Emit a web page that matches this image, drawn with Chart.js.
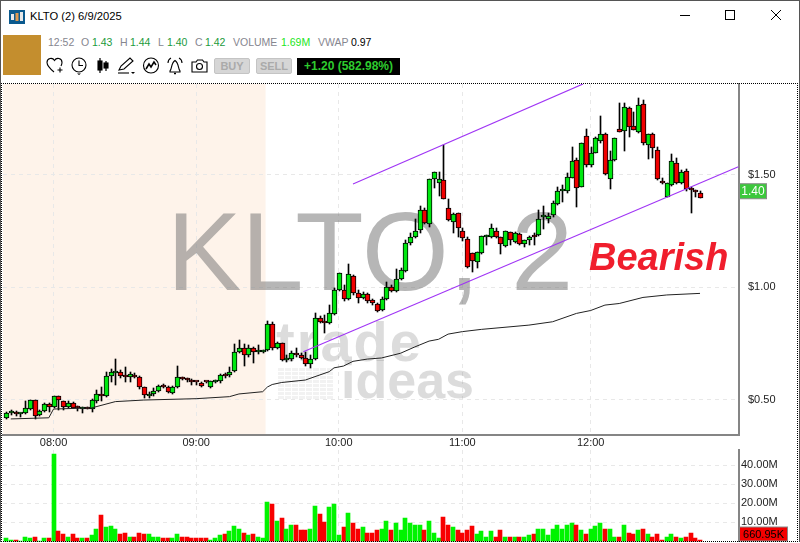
<!DOCTYPE html>
<html>
<head>
<meta charset="utf-8">
<title>KLTO (2) 6/9/2025</title>
<script src="https://cdn.jsdelivr.net/npm/chart.js@4/dist/chart.umd.js"></script>
<style>
html,body{margin:0;padding:0;background:#fff;}
body{width:800px;height:543px;overflow:hidden;position:relative;font-family:"Liberation Sans",Arial,sans-serif;}
.abs{position:absolute;white-space:nowrap;}
canvas{position:absolute;left:0;}
#priceChart{top:83px;}
#volumeChart{top:445px;}
#frame{left:1px;top:83px;width:795px;height:457px;border:1px dotted #000;pointer-events:none;}
#edge{left:0;top:0;width:798px;height:541px;border:1px solid #555;border-width:1px 1px 0 1px;pointer-events:none;}
.info{font-size:10.5px;top:36px;line-height:12px;}
.lab{color:#86868f;}
.val{color:#1c9a3c;}
.btn{top:58px;height:14px;width:34px;background:#d6d6d6;border:1px solid #c4c4c4;border-radius:2px;color:#aaa;font-size:11px;font-weight:bold;text-align:center;line-height:14px;}
svg{position:absolute;overflow:visible;}
</style>
</head>
<body>
<div class="abs" id="edge"></div>

<svg style="left:9px;top:10px" width="16" height="14">
  <rect width="16" height="14" fill="#0b5a8e"/>
  <rect x="2" y="4" width="3" height="6" fill="#e8e8e8"/><rect x="6.5" y="3" width="3" height="8" fill="#e09a50"/><rect x="11" y="2" width="3" height="9" fill="#e8e8e8"/>
</svg>
<div class="abs" style="left:30px;top:9px;font-size:11.2px;line-height:14px;color:#000">KLTO (2) 6/9/2025</div>

<svg style="left:680px;top:10px" width="102" height="10" fill="none" stroke="#000">
  <path d="M0 5.5H10"/><rect x="45.5" y="0.5" width="9" height="9"/><path d="M91 0L101 10M101 0L91 10"/>
</svg>

<div class="abs" style="left:3px;top:35px;width:38px;height:40px;background:#c48e2e"></div>

<span class="abs info lab" style="left:48px">12:52</span>
<span class="abs info lab" style="left:81px">O</span><span class="abs info val" style="left:92px">1.43</span>
<span class="abs info lab" style="left:120px">H</span><span class="abs info val" style="left:130px">1.44</span>
<span class="abs info lab" style="left:158px">L</span><span class="abs info val" style="left:167px">1.40</span>
<span class="abs info lab" style="left:195px">C</span><span class="abs info val" style="left:205px">1.42</span>
<span class="abs info lab" style="left:233px">VOLUME</span><span class="abs info" style="left:281px;color:#22e622">1.69M</span>
<span class="abs info lab" style="left:318px">VWAP</span><span class="abs info" style="left:351px;color:#000">0.97</span>

<svg style="left:46px;top:57px" width="165" height="18" fill="none" stroke="#000" stroke-width="1.1">
  <!-- heart -->
  <path d="M8 15C2 10 1 8 1 5.5C1 1 6.5 0 8.5 3.5C10.5 0 16 1 16 5.5C16 7 15.500 8 15 9"/><path d="M14 10.500V15.500M11.500 13H16.500"/>
  <!-- clock -->
  <circle cx="33" cy="8" r="7"/><path d="M33 3.500V8.500H37"/><path d="M31 16.500H35L33 18Z" fill="#000" stroke="none"/>
  <!-- candles -->
  <path d="M54 1V16M60 4V14" stroke-width="1.2"/><rect x="52" y="4" width="4" height="9" fill="#000"/><rect x="58" y="6" width="4" height="5" fill="#000"/>
  <!-- pen -->
  <path d="M73 13L75 9L84 1L87 4L78 12L73 13Z"/><path d="M72 16H83"/><path d="M85 15H89L87 17Z" fill="#000" stroke="none"/>
  <!-- chart -->
  <circle cx="105" cy="8.500" r="7.500"/><path d="M100 12L103 7L105 10L108 5L110 8" stroke-width="1.500"/>
  <!-- bell -->
  <path d="M124 15H134V14C132 12 133 6 129 3.500C125 6 126 12 124 14Z"/><path d="M128 16.500H130" stroke-width="1.500"/><path d="M122 6C122 4 123 2 125 1M136 6C136 4 135 2 133 1"/>
  <!-- camera -->
  <path d="M146 5H150L151.500 3H156.500L158 5H161V15H146Z"/><circle cx="153.500" cy="9.500" r="3"/>
</svg>

<div class="abs btn" style="left:214px">BUY</div>
<div class="abs btn" style="left:256px">SELL</div>
<div class="abs" style="left:297px;top:58px;width:103px;height:17px;background:#000;color:#2ecc2e;font-size:12px;font-weight:bold;text-align:center;line-height:17px">+1.20 (582.98%)</div>

<canvas id="priceChart" width="800" height="370"></canvas>
<canvas id="volumeChart" width="800" height="98"></canvas>
<div class="abs" id="frame"></div>

<script>
// bars are 2 minute candles, numbered from the left edge of the chart
const tickBars = [10, 40, 70, 96, 123];
const tickLabels = ['08:00', '09:00', '10:00', '11:00', '12:00'];
const priceTicks = [0.5, 1.0, 1.5];
const volumeTicks = [10, 20, 30, 40];
const preMarketEnd = 54.6;

const opens = [
  .418,.442,.444,.438,.440,.458,.498,.431,.449,.480,.467,.515,.493,.467,.484,.465,.459,.461,.458,.493,
  .524,.515,.604,.621,.622,.605,.600,.609,.600,.555,.519,.524,.538,.561,.555,.529,.555,.600,.592,.587,
  .579,.573,.579,.555,.581,.582,.610,.609,.626,.711,.729,.698,.729,.711,.713,.722,.836,.730,.751,.679,
  .680,.710,.698,.685,.658,.680,.865,.844,.840,.880,.987,.987,.947,1.049,.973,.951,.969,.942,.924,.898,
  .947,1.000,.982,1.035,1.071,1.199,1.222,1.254,1.344,1.280,1.480,1.462,1.476,1.351,1.289,1.329,1.249,1.214,1.151,1.111,
  1.151,1.222,1.222,1.249,1.222,1.182,1.245,1.200,1.236,1.191,1.209,1.228,1.231,1.311,1.302,1.320,1.369,1.426,1.430,1.485,
  1.566,1.448,1.671,1.544,1.599,1.649,1.680,1.480,1.565,1.702,1.693,1.796,1.716,1.689,1.813,1.631,1.680,1.609,1.471,1.402,
  1.454,1.551,1.463,1.516,1.440,1.427,1.421
];
const highs = [
  .444,.455,.450,.440,.495,.498,.498,.455,.484,.487,.515,.515,.496,.496,.492,.473,.470,.470,.502,.544,
  .555,.625,.635,.681,.632,.647,.625,.618,.606,.555,.536,.551,.566,.569,.561,.561,.650,.603,.595,.592,
  .581,.581,.581,.585,.588,.613,.618,.647,.748,.766,.748,.743,.736,.743,.721,.850,.847,.757,.754,.699,
  .719,.729,.707,.714,.699,.884,.873,.877,.921,.995,1.062,1.010,1.103,1.055,.988,.981,.973,.947,.929,.958,
  1.025,1.010,1.080,1.084,1.211,1.240,1.304,1.362,1.351,1.480,1.511,1.511,1.632,1.391,1.329,1.329,1.262,1.222,1.151,1.159,
  1.227,1.233,1.280,1.262,1.222,1.249,1.248,1.245,1.240,1.209,1.228,1.240,1.344,1.362,1.329,1.385,1.444,1.455,1.507,1.622,
  1.574,1.640,1.702,1.622,1.667,1.762,1.688,1.608,1.662,1.818,1.818,1.800,1.781,1.840,1.833,1.680,1.685,1.622,1.485,1.463,
  1.591,1.574,1.522,1.525,1.448,1.433,1.426
];
const lows = [
  .413,.433,.428,.422,.436,.455,.413,.428,.446,.447,.462,.455,.455,.462,.462,.450,.440,.458,.447,.487,
  .496,.511,.581,.566,.595,.581,.581,.595,.547,.507,.507,.517,.535,.551,.529,.526,.551,.588,.581,.566,
  .566,.555,.573,.551,.573,.576,.595,.603,.625,.706,.652,.692,.665,.703,.706,.719,.722,.725,.671,.670,
  .674,.692,.680,.651,.643,.677,.840,.799,.837,.877,.984,.939,.944,.966,.929,.947,.929,.921,.892,.893,
  .944,.979,.979,1.032,1.068,1.188,1.218,1.240,1.282,1.270,1.440,1.407,1.391,1.296,1.240,1.225,1.208,1.088,1.070,1.085,
  1.148,1.188,1.218,1.218,1.148,1.178,1.188,1.196,1.188,1.181,1.188,1.188,1.228,1.261,1.285,1.311,1.365,1.381,1.418,1.485,
  1.359,1.448,1.534,1.534,1.596,1.640,1.500,1.439,1.563,1.689,1.608,1.670,1.698,1.685,1.633,1.569,1.574,1.477,1.460,1.400,
  1.451,1.458,1.458,1.426,1.329,1.400,1.395
];
const closes = [
  .440,.444,.437,.440,.462,.498,.428,.449,.480,.467,.515,.498,.467,.484,.462,.463,.461,.459,.498,.524,
  .515,.604,.622,.623,.604,.603,.613,.600,.555,.520,.521,.538,.560,.559,.533,.555,.600,.591,.590,.578,
  .577,.560,.577,.582,.583,.609,.608,.622,.711,.729,.698,.729,.712,.713,.715,.836,.730,.751,.677,.681,
  .710,.698,.686,.659,.680,.865,.846,.842,.884,.987,1.062,.947,1.058,.973,.951,.969,.938,.929,.896,.947,
  1.000,.982,1.035,1.077,1.199,1.222,1.249,1.344,1.285,1.480,1.511,1.480,1.391,1.299,1.325,1.262,1.218,1.089,1.116,1.156,
  1.227,1.224,1.262,1.222,1.191,1.249,1.209,1.240,1.191,1.209,1.222,1.224,1.302,1.313,1.316,1.373,1.427,1.430,1.489,1.562,
  1.440,1.640,1.544,1.596,1.662,1.680,1.503,1.565,1.662,1.689,1.800,1.711,1.698,1.809,1.640,1.680,1.618,1.480,1.463,1.463,
  1.560,1.463,1.511,1.439,1.432,1.425,1.396
];
// volume in millions
const volumes = [
  1.6,1.0,1.0,.5,2.6,1.6,2.1,.5,1.6,1.6,45.8,5.3,3.7,2.6,3.7,1.6,1.6,1.6,3.2,6.3,
  13.7,7.4,7.9,6.8,3.7,4.7,2.1,2.1,4.7,3.7,3.7,2.1,2.1,1.6,1.6,1.6,3.7,2.6,2.1,1.6,
  1.6,1.6,1.6,1.0,1.6,3.2,3.7,5.3,7.9,6.8,4.7,3.2,3.7,2.1,1.6,20.5,19.5,11.0,12.1,6.3,
  8.4,8.9,5.8,5.8,6.3,18.4,14.2,10.0,17.9,19.5,3.2,7.4,14.7,9.5,6.8,7.4,4.7,4.7,5.8,6.3,
  10.5,5.8,9.5,5.8,12.1,9.5,8.9,8.9,5.8,11.0,4.2,1.6,12.6,8.9,7.4,5.8,4.2,5.8,7.9,3.7,
  5.3,2.6,5.3,2.6,5.8,2.6,2.1,2.6,2.6,2.6,3.2,3.7,6.8,6.3,3.2,6.3,8.4,6.8,8.9,9.5,
  8.9,5.8,3.7,6.8,7.9,9.5,6.3,6.3,2.1,2.6,8.9,4.7,3.7,5.8,6.8,3.7,2.1,3.7,1.0,2.1,
  3.7,2.1,1.6,2.1,4.2,1.6,.66095
];
// vwap read at the bars where the line bends
const vwapBars = [1,9,10,18,23,29,40,47,49,54,55,56,58,63,65,68,69,71,73,76,79,83,86,89,91,93,96,100,110,115,120,123,126,129,134,139,146];
const vwapValues = [.415,.420,.459,.464,.492,.499,.505,.514,.526,.536,.557,.568,.577,.588,.603,.625,.642,.650,.671,.681,.686,.707,.735,.761,.769,.792,.803,.813,.832,.847,.884,.897,.921,.928,.955,.966,.973];
// drawn channel, bar and price of each end
const channelUpperBars = [73, 121.4];
const channelUpperPrices = [1.459, 1.904];
const channelLowerBars = [62.55, 154.07];
const channelLowerPrices = [.714, 1.536];

const quoteLevel = 1.427;
const quoteLabel = '1.40';
const volumeLabel = '660.95K';

const UP_BODY = '#00e810', DOWN_BODY = '#f00000';
const UP_VOL = '#00f400', DOWN_VOL = '#f80000';
const GRID = '#e8e8e8', AXIS = '#858585';
const FONT = '"Liberation Sans", Arial, sans-serif';

const isUp = (i) => closes[i] >= opens[i];
const toPoints = (xs, ys) => xs.map((x, i) => ({x: x, y: ys[i]}));

// snap the bars to whole pixels, the original chart has no blurred wicks
const snapBars = {
  id: 'snapBars',
  afterDatasetsUpdate(chart) {
    chart.getSortedVisibleDatasetMetas().forEach((meta) => {
      if (meta.type !== 'bar') return;
      const odd = chart.data.datasets[meta.index].barThickness % 2 === 1;
      meta.data.forEach((bar) => {
        bar.x = Math.round(bar.x) + (odd ? 0.5 : 0);
        bar.y = Math.round(bar.y);
        bar.base = Math.round(bar.base);
        bar.height = bar.base - bar.y;
      });
    });
  }
};

const priceDecor = {
  id: 'priceDecor',
  beforeDraw(chart) {
    const {ctx, chartArea: area, scales} = chart;
    ctx.save();
    ctx.fillStyle = '#fef3ea';
    ctx.fillRect(area.left, area.top, scales.x.getPixelForValue(preMarketEnd) - area.left, area.height);
    ctx.restore();
  },
  beforeDatasetsDraw(chart) {
    const {ctx, chartArea: area} = chart;
    const mid = (area.left + area.right) / 2;
    ctx.save();
    ctx.textAlign = 'center';
    ctx.textBaseline = 'alphabetic';
    ctx.fillStyle = 'rgba(110,110,110,0.5)';
    ctx.font = '112px ' + FONT;
    ctx.fillText('KLTO, 2', mid - 1, 207);

    ctx.textAlign = 'left';
    ctx.fillStyle = 'rgba(150,150,150,0.33)';
    ctx.font = 'bold 56px ' + FONT;
    ctx.letterSpacing = '2px';
    ctx.fillText('trade', 276, 278);
    ctx.letterSpacing = '0px';
    ctx.font = 'bold 52px ' + FONT;
    ctx.fillText('ideas', 341, 315);

    // little bar logo of the watermark
    ctx.fillStyle = 'rgba(150,150,150,0.12)';
    for (let col = 0; col < 8; col++) {
      for (let row = 0; row < 8; row++) {
        ctx.fillRect(278 + col * 7, 285 + row * 4, 6, 3);
      }
    }
    ctx.restore();
  },
  afterDraw(chart) {
    const {ctx, scales} = chart;
    ctx.save();
    ctx.fillStyle = '#f01e2d';
    ctx.font = 'italic bold 38px ' + FONT;
    ctx.textAlign = 'left';
    ctx.fillText('Bearish', 589, 187);

    const y = scales.y.getPixelForValue(quoteLevel);
    ctx.fillStyle = '#3cc83c';
    ctx.strokeStyle = '#8a8a8a';
    ctx.fillRect(739.5, y - 7.5, 27, 15);
    ctx.strokeRect(739.5, y - 7.5, 27, 15);
    ctx.fillStyle = '#fff';
    ctx.font = '12px ' + FONT;
    ctx.textAlign = 'center';
    ctx.textBaseline = 'middle';
    ctx.fillText(quoteLabel, 753, y + 0.5);
    ctx.restore();
  }
};

const volumeDecor = {
  id: 'volumeDecor',
  afterDraw(chart) {
    const {ctx, scales} = chart;
    const y = Math.min(scales.y.getPixelForValue(volumes[volumes.length - 1]), 89);
    ctx.save();
    ctx.fillStyle = '#f40000';
    ctx.strokeStyle = '#8a8a8a';
    ctx.fillRect(739.5, y - 7, 48, 14);
    ctx.strokeRect(739.5, y - 7, 48, 14);
    ctx.fillStyle = '#000';
    ctx.font = '11px ' + FONT;
    ctx.textAlign = 'center';
    ctx.textBaseline = 'middle';
    ctx.fillText(volumeLabel, 763.5, y + 0.5);
    ctx.restore();
  }
};

const xScale = (showLabels) => ({
  type: 'linear',
  offset: false,
  min: -0.631,
  max: 154.2,
  afterBuildTicks: (scale) => { scale.ticks = tickBars.map((v) => ({value: v})); },
  afterFit: (scale) => {
    scale.height = showLabels ? 18 : 0;
    scale.paddingLeft = 0;
    scale.paddingRight = 0;
  },
  grid: {offset: false, color: GRID, drawTicks: false},
  border: {display: showLabels, color: AXIS, width: 2, dash: [4, 4]},
  ticks: {
    display: showLabels,
    autoSkip: false,
    maxRotation: 0,
    padding: 1,
    color: '#222',
    font: {family: FONT, size: 11},
    callback: (v) => tickLabels[tickBars.indexOf(v)]
  }
});

// labels on the right axis must not push the plot away from the frame
const fitRightAxis = (scale) => {
  scale.width = 61;
  scale.paddingTop = 0;
  scale.paddingBottom = 0;
};

const barIndex = opens.map((v, i) => i);

const priceChart = new Chart(document.getElementById('priceChart'), {
  type: 'bar',
  plugins: [snapBars, priceDecor],
  data: {
    datasets: [
      {type: 'line', data: toPoints(channelUpperBars, channelUpperPrices), borderColor: '#a035f5', borderWidth: 1.1, pointRadius: 0},
      {type: 'line', data: toPoints(channelLowerBars, channelLowerPrices), borderColor: '#a035f5', borderWidth: 1.1, pointRadius: 0},
      {type: 'line', data: toPoints(vwapBars, vwapValues), borderColor: '#222', borderWidth: 1, pointRadius: 0},
      {
        data: barIndex.map((i) => ({x: i, y: [opens[i], closes[i]]})),
        backgroundColor: barIndex.map((i) => isUp(i) ? UP_BODY : DOWN_BODY),
        borderColor: '#000',
        borderWidth: 1,
        borderSkipped: false,
        barThickness: 5,
        minBarLength: 2,
        grouped: false
      },
      {
        data: barIndex.map((i) => ({x: i, y: [lows[i], highs[i]]})),
        backgroundColor: '#000',
        barThickness: 1,
        grouped: false
      }
    ]
  },
  options: {
    responsive: false,
    animation: false,
    events: [],
    layout: {padding: {left: 3, right: 0, top: 1, bottom: 0}},
    plugins: {legend: {display: false}, tooltip: {enabled: false}},
    scales: {
      x: xScale(true),
      y: {
        position: 'right',
        min: 0.3436,
        max: 1.9036,
        afterBuildTicks: (scale) => { scale.ticks = priceTicks.map((v) => ({value: v})); },
        afterFit: fitRightAxis,
        grid: {color: GRID, drawTicks: false},
        border: {color: AXIS, width: 2, dash: [4, 4]},
        ticks: {
          padding: 9,
          color: '#222',
          crossAlign: 'near',
          font: {family: FONT, size: 11},
          callback: (v) => '$' + v.toFixed(2)
        }
      }
    }
  }
});

const volumeChart = new Chart(document.getElementById('volumeChart'), {
  type: 'bar',
  plugins: [snapBars, volumeDecor],
  data: {
    datasets: [{
      data: barIndex.map((i) => ({x: i, y: volumes[i]})),
      backgroundColor: barIndex.map((i) => isUp(i) ? UP_VOL : DOWN_VOL),
      barThickness: 4,
      grouped: false
    }]
  },
  options: {
    responsive: false,
    animation: false,
    events: [],
    layout: {padding: {left: 3, right: 0, top: 5, bottom: 1.5}},
    plugins: {legend: {display: false}, tooltip: {enabled: false}},
    scales: {
      x: xScale(false),
      y: {
        position: 'right',
        min: 0,
        max: 48,
        afterBuildTicks: (scale) => { scale.ticks = volumeTicks.map((v) => ({value: v})); },
        afterFit: fitRightAxis,
        grid: {color: GRID, drawTicks: false},
        border: {color: AXIS, width: 2, dash: [4, 4]},
        ticks: {
          padding: 2,
          color: '#222',
          crossAlign: 'near',
          font: {family: FONT, size: 11},
          callback: (v) => v.toFixed(2) + 'M'
        }
      }
    }
  }
});
</script>
</body>
</html>
